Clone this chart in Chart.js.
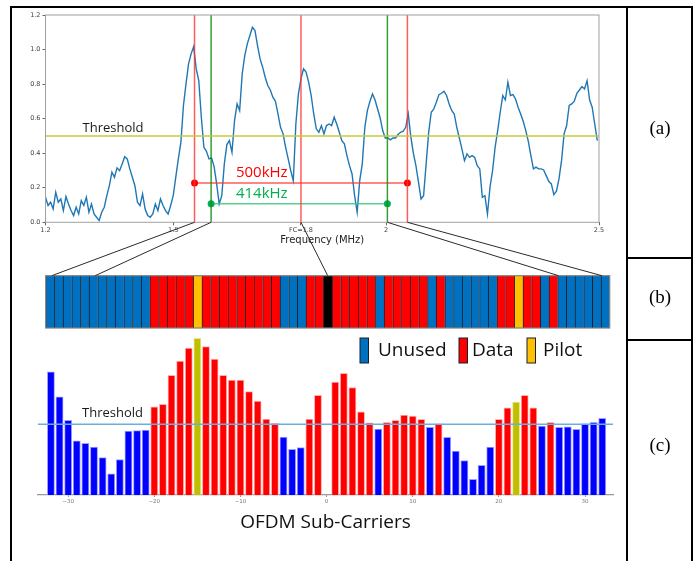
<!DOCTYPE html>
<html>
<head>
<meta charset="utf-8">
<script src="https://cdn.jsdelivr.net/npm/chart.js@4.4.1/dist/chart.umd.min.js"></script>
<style>
    html, body { margin: 0; padding: 0; background: #fff; }
    #page { position: relative; width: 699px; height: 561px; overflow: hidden; background: #fff; }
    canvas { position: absolute; }
    .rule { position: absolute; background: #000; }
    .tag { position: absolute; font-family: 'Liberation Serif', 'Times New Roman', serif; font-size: 19px; color: #000; transform: translate(-50%, -50%); }
</style>
</head>
<body>
<div id="page">
    <canvas id="spectrum" width="627" height="258" style="left:0;top:0"></canvas>
    <canvas id="cells" width="627" height="82" style="left:0;top:258px"></canvas>
    <canvas id="carriers" width="627" height="231" style="left:0;top:330px"></canvas>
    <canvas id="links" width="699" height="561" style="left:0;top:0"></canvas>

    <div class="rule" style="left:10px;top:6px;width:683px;height:2px"></div>
    <div class="rule" style="left:10px;top:6px;width:2px;height:555px"></div>
    <div class="rule" style="left:626px;top:6px;width:2px;height:555px"></div>
    <div class="rule" style="left:691px;top:6px;width:2px;height:555px"></div>
    <div class="rule" style="left:626px;top:257px;width:67px;height:2px"></div>
    <div class="rule" style="left:626px;top:339px;width:67px;height:2px"></div>

    <div class="tag" style="left:660px;top:128px">(a)</div>
    <div class="tag" style="left:660px;top:297px">(b)</div>
    <div class="tag" style="left:660px;top:445px">(c)</div>
</div>

<script>
// Спектр (a): уровень сигнала с шагом 6 кГц, начиная с 1.2 МГц
const FREQ_START = 1.2;
const FREQ_STEP = 0.006;
const spectrumLevel = [
    0.145, 0.097, 0.116, 0.077, 0.174, 0.116, 0.135, 0.068, 0.149, 0.106,
    0.068, 0.039, 0.087, 0.048, 0.125, 0.097, 0.145, 0.058, 0.106, 0.048,
    0.029, 0.010, 0.058, 0.087, 0.154, 0.212, 0.290, 0.261, 0.315, 0.299,
    0.338, 0.380, 0.367, 0.309, 0.261, 0.212, 0.116, 0.097, 0.164, 0.077,
    0.039, 0.029, 0.048, 0.106, 0.068, 0.135, 0.097, 0.068, 0.048, 0.097,
    0.154, 0.261, 0.367, 0.463, 0.676,
    0.801, 0.917, 0.975, 1.017, 0.888, 0.820, 0.608, 0.434, 0.411, 0.367,
    0.373, 0.322, 0.222, 0.106, 0.154, 0.338, 0.450, 0.473, 0.405, 0.589,
    0.685, 0.647, 0.859, 0.965, 1.033, 1.081, 1.129, 1.110, 1.023, 0.946,
    0.898, 0.840, 0.792, 0.766, 0.724, 0.701, 0.627, 0.550, 0.512, 0.434,
    0.367, 0.299, 0.241, 0.569, 0.743, 0.830, 0.888, 0.869, 0.811, 0.734,
    0.627, 0.541, 0.521,
    0.560, 0.512, 0.560, 0.569, 0.560, 0.608, 0.569, 0.521, 0.473, 0.454,
    0.386, 0.328, 0.280, 0.154, 0.058, 0.241, 0.338, 0.550, 0.647, 0.701,
    0.743, 0.708, 0.656, 0.604, 0.531, 0.488, 0.488, 0.477, 0.488, 0.488,
    0.508, 0.521, 0.527, 0.550, 0.627, 0.496, 0.400, 0.328, 0.232, 0.135,
    0.154, 0.338, 0.521, 0.637, 0.656, 0.695, 0.739, 0.747, 0.759, 0.734,
    0.685, 0.647, 0.627, 0.550, 0.488,
    0.425, 0.357, 0.396, 0.376, 0.386, 0.376, 0.328, 0.309, 0.145, 0.154,
    0.048, 0.203, 0.299, 0.434, 0.531, 0.637, 0.734, 0.708, 0.811, 0.734,
    0.739, 0.714, 0.666, 0.627, 0.585, 0.531, 0.469, 0.386, 0.309, 0.319,
    0.309, 0.309, 0.303, 0.270, 0.237, 0.222, 0.160, 0.180, 0.251, 0.357,
    0.512, 0.560, 0.676, 0.685, 0.701, 0.747, 0.766, 0.786, 0.772, 0.820,
    0.708, 0.666, 0.569, 0.473
];
const spectrumThreshold = 0.5;
const fcFreq = 1.8;
const band500 = [1.55, 2.05];
const band414 = [1.589, 2.003];
const band500Level = 0.227;
const band414Level = 0.108;
const freqTicks = [1.2, 1.5, 1.8, 2.0, 2.5];
const freqTickLabels = ['1.2', '1.5', 'FC=1.8', '2', '2.5'];
const levelTicks = [0, 0.2, 0.4, 0.6, 0.8, 1.0, 1.2];

// Поднесущие OFDM (b, c)
const subcarriers = [
    -32, -31, -30, -29, -28, -27, -26, -25, -24, -23, -22, -21, -20, -19, -18, -17,
    -16, -15, -14, -13, -12, -11, -10, -9, -8, -7, -6, -5, -4, -3, -2, -1,
    0, 1, 2, 3, 4, 5, 6, 7, 8, 9, 10, 11, 12, 13, 14, 15,
    16, 17, 18, 19, 20, 21, 22, 23, 24, 25, 26, 27, 28, 29, 30, 31, 32
];
// U - не используется, D - данные, P - пилот, N - нулевая (DC)
const carrierType = [
    'U', 'U', 'U', 'U', 'U', 'U', 'U', 'U', 'U', 'U', 'U', 'U', 'D', 'D', 'D', 'D',
    'D', 'P', 'D', 'D', 'D', 'D', 'D', 'D', 'D', 'D', 'D', 'U', 'U', 'U', 'D', 'D',
    'N', 'D', 'D', 'D', 'D', 'D', 'U', 'D', 'D', 'D', 'D', 'D', 'U', 'D', 'U', 'U',
    'U', 'U', 'U', 'U', 'D', 'D', 'P', 'D', 'D', 'U', 'D', 'U', 'U', 'U', 'U', 'U', 'U'
];
const carrierPower = [
    0.872, 0.695, 0.528, 0.384, 0.366, 0.339, 0.264, 0.149, 0.250, 0.453, 0.455, 0.460,
    0.624, 0.641, 0.847, 0.948, 1.040, 1.108, 1.049, 0.962, 0.847, 0.813, 0.813, 0.731,
    0.665, 0.537, 0.507, 0.410, 0.323, 0.335, 0.537, 0.705,
    null,
    0.799, 0.861, 0.759, 0.589, 0.511, 0.467, 0.514, 0.528, 0.566, 0.559, 0.535, 0.479,
    0.504, 0.408, 0.311, 0.243, 0.111, 0.210, 0.339, 0.535, 0.617, 0.658, 0.705, 0.617,
    0.488, 0.514, 0.479, 0.483, 0.465, 0.504, 0.514, 0.542
];
const carrierThreshold = 0.5;
const carrierTicks = [-30, -20, -10, 0, 10, 20, 30];

// Связь частот спектра с ячейками карты поднесущих
const linkFreqs = [1.55, 1.589, 1.8, 2.003, 2.05];
const linkCarriers = [-31.8, -26.8, 0, 26.6, 31.6];

// Цвета
const cellColors = { U: '#0070C0', D: '#FF0000', P: '#FFC000', N: '#000000' };
const barColors = { U: '#0000FF', D: '#FF0000', P: '#BFBF00', N: '#000000' };
const barEdges = { U: 'rgba(150,150,255,0.9)', D: 'rgba(255,170,170,0.9)', P: 'rgba(230,230,140,0.9)', N: '#000' };

const TEXT_FONT = "'Open Sans', sans-serif";
const MPL_FONT = "'DejaVu Sans', sans-serif";

// Вспомогательные функции
function segment(x1, y1, x2, y2, color, width, points, pointColor) {
    return {
        data: [{ x: x1, y: y1 }, { x: x2, y: y2 }],
        borderColor: color,
        borderWidth: width,
        pointRadius: points || 0,
        pointBackgroundColor: pointColor || color,
        pointBorderWidth: 0,
        order: 1
    };
}

function minusLabel(v) {
    return v < 0 ? '\u2212' + Math.abs(v) : String(v);
}

// (a) Спектр
const spectrumAnnotations = {
    id: 'spectrumAnnotations',
    afterDraw(chart) {
        const { ctx, chartArea, scales } = chart;
        ctx.save();
        ctx.strokeStyle = '#a0a0a0';
        ctx.lineWidth = 1;
        ctx.strokeRect(chartArea.left, chartArea.top, chartArea.right - chartArea.left, chartArea.bottom - chartArea.top);

        ctx.textAlign = 'center';
        ctx.textBaseline = 'middle';
        ctx.fillStyle = '#1a1a1a';
        ctx.font = '13px ' + TEXT_FONT;
        ctx.fillText('Threshold', scales.x.getPixelForValue(1.3585), scales.y.getPixelForValue(0.546));
        ctx.font = '15px ' + TEXT_FONT;
        ctx.fillStyle = '#FF0000';
        ctx.fillText('500kHz', scales.x.getPixelForValue(1.708), scales.y.getPixelForValue(0.285));
        ctx.fillStyle = '#00B050';
        ctx.fillText('414kHz', scales.x.getPixelForValue(1.708), scales.y.getPixelForValue(0.164));
        ctx.restore();
    }
};

const spectrumChart = new Chart(document.getElementById('spectrum'), {
    type: 'line',
    data: {
        datasets: [
            segment(FREQ_START, spectrumThreshold, 2.5, spectrumThreshold, '#C9C93A', 1.5),
            segment(band500[0], 0, band500[0], 1.2, 'rgba(255,50,50,0.8)', 1.5),
            segment(fcFreq, 0, fcFreq, 1.2, 'rgba(255,50,50,0.8)', 1.5),
            segment(band500[1], 0, band500[1], 1.2, 'rgba(255,50,50,0.8)', 1.5),
            segment(band414[0], 0, band414[0], 1.2, 'rgba(20,140,20,0.85)', 1.5),
            segment(band414[1], 0, band414[1], 1.2, 'rgba(20,140,20,0.85)', 1.5),
            segment(band500[0], band500Level, band500[1], band500Level, 'rgba(255,50,50,0.8)', 1.5, 3.5, '#FF0000'),
            segment(band414[0], band414Level, band414[1], band414Level, 'rgba(60,200,120,0.85)', 1.5, 3.5, '#00B050'),
            {
                data: spectrumLevel.map((v, i) => ({ x: FREQ_START + i * FREQ_STEP, y: v })),
                borderColor: '#1f77b4',
                borderWidth: 1.4,
                pointRadius: 0,
                order: 2
            }
        ]
    },
    options: {
        responsive: false,
        animation: false,
        layout: { padding: { left: 0, right: 28, top: 15, bottom: 0 } },
        plugins: { legend: { display: false }, tooltip: { enabled: false } },
        scales: {
            x: {
                type: 'linear',
                min: 1.2,
                max: 2.5,
                afterBuildTicks: s => { s.ticks = freqTicks.map(v => ({ value: v })); },
                afterFit: s => { s.height = 35.7; },
                ticks: {
                    callback: (v, i) => freqTickLabels[i],
                    font: { family: MPL_FONT, size: 6.5 },
                    color: '#444',
                    padding: 1,
                    maxRotation: 0,
                    autoSkip: false
                },
                grid: { drawOnChartArea: false, tickLength: 3, color: '#666' },
                border: { display: false },
                title: {
                    display: true,
                    text: 'Frequency (MHz)',
                    font: { family: MPL_FONT, size: 10 },
                    color: '#222',
                    padding: { top: 0, bottom: 12 }
                }
            },
            y: {
                min: 0,
                max: 1.2,
                afterBuildTicks: s => { s.ticks = levelTicks.map(v => ({ value: v })); },
                afterFit: s => { s.width = 45.5; },
                ticks: {
                    callback: v => v.toFixed(1),
                    font: { family: MPL_FONT, size: 6.5 },
                    color: '#444',
                    padding: 2
                },
                grid: { drawOnChartArea: false, tickLength: 3, color: '#666' },
                border: { display: false }
            }
        }
    },
    plugins: [spectrumAnnotations]
});

// (b) Карта поднесущих
const cellsOutline = {
    id: 'cellsOutline',
    afterDraw(chart) {
        const { ctx, chartArea } = chart;
        ctx.save();
        ctx.strokeStyle = '#7f7f7f';
        ctx.lineWidth = 1.2;
        ctx.strokeRect(chartArea.left, chartArea.top, chartArea.right - chartArea.left, chartArea.bottom - chartArea.top);
        ctx.restore();
    }
};

const cellsChart = new Chart(document.getElementById('cells'), {
    type: 'bar',
    data: {
        labels: subcarriers,
        datasets: [{
            data: subcarriers.map(() => 1),
            backgroundColor: carrierType.map(t => cellColors[t]),
            borderColor: '#1b1f2a',
            borderWidth: { left: 1, right: 0, top: 0, bottom: 0 },
            borderSkipped: false,
            categoryPercentage: 1,
            barPercentage: 1
        }]
    },
    options: {
        responsive: false,
        animation: false,
        layout: { padding: { left: 45.7, right: 17.3, top: 17.7, bottom: 12 } },
        plugins: { legend: { display: false }, tooltip: { enabled: false } },
        scales: {
            x: { display: false },
            y: { display: false, min: 0, max: 1 }
        }
    },
    plugins: [cellsOutline]
});

// (c) Мощность на поднесущих
const carriersDecor = {
    id: 'carriersDecor',
    afterDraw(chart) {
        const { ctx, scales } = chart;
        ctx.save();
        ctx.textAlign = 'center';
        ctx.textBaseline = 'middle';
        ctx.fillStyle = '#1a1a1a';
        ctx.font = '13px ' + TEXT_FONT;
        ctx.fillText('Threshold', scales.x.getPixelForValue(-24.85), scales.y.getPixelForValue(0.58));

        // Легенда
        const items = [
            { label: 'Unused', color: cellColors.U, box: 360, text: 378 },
            { label: 'Data', color: cellColors.D, box: 459, text: 472 },
            { label: 'Pilot', color: cellColors.P, box: 527, text: 543 }
        ];
        ctx.font = '19px ' + TEXT_FONT;
        ctx.textAlign = 'left';
        items.forEach(item => {
            ctx.fillStyle = item.color;
            ctx.fillRect(item.box, 8, 8.5, 25);
            ctx.strokeStyle = '#1b1f2a';
            ctx.lineWidth = 1;
            ctx.strokeRect(item.box, 8, 8.5, 25);
            ctx.fillStyle = '#111';
            ctx.fillText(item.label, item.text, 21);
        });
        ctx.restore();
    }
};

const carriersChart = new Chart(document.getElementById('carriers'), {
    type: 'bar',
    data: {
        datasets: [
            {
                type: 'line',
                data: [{ x: -33.5, y: carrierThreshold }, { x: 33.25, y: carrierThreshold }],
                borderColor: '#6aaee0',
                borderWidth: 1.5,
                pointRadius: 0,
                order: 0
            },
            {
                data: subcarriers.map((s, i) => ({ x: s, y: carrierPower[i] })),
                backgroundColor: carrierType.map(t => barColors[t]),
                borderColor: carrierType.map(t => barEdges[t]),
                borderWidth: 1,
                borderSkipped: 'start',
                barThickness: 7.2,
                order: 1
            }
        ]
    },
    options: {
        responsive: false,
        animation: false,
        layout: { padding: { left: 38, right: 14, top: 2, bottom: 0 } },
        plugins: { legend: { display: false }, tooltip: { enabled: false } },
        scales: {
            x: {
                type: 'linear',
                offset: false,
                min: -33.5,
                max: 33.25,
                afterBuildTicks: s => { s.ticks = carrierTicks.map(v => ({ value: v })); },
                afterFit: s => { s.height = 66; },
                ticks: {
                    callback: v => minusLabel(v),
                    font: { family: MPL_FONT, size: 5.5 },
                    color: '#777',
                    padding: 1,
                    maxRotation: 0,
                    autoSkip: false
                },
                grid: { drawOnChartArea: false, tickLength: 2, color: '#999', offset: false },
                border: { color: '#999', width: 1.2 },
                title: {
                    display: true,
                    text: 'OFDM Sub-Carriers',
                    font: { family: TEXT_FONT, size: 19 },
                    color: '#111',
                    padding: { top: 0, bottom: 27 }
                }
            },
            y: { display: false, min: 0, max: 1.153 }
        }
    },
    plugins: [carriersDecor]
});

// Соединительные линии между (a) и (b)
function drawLinks() {
    const ctx = document.getElementById('links').getContext('2d');
    const specCanvas = document.getElementById('spectrum');
    const cellCanvas = document.getElementById('cells');
    const xs = spectrumChart.scales.x;
    const yTop = specCanvas.offsetTop + spectrumChart.chartArea.bottom;
    const area = cellsChart.chartArea;
    const yBottom = cellCanvas.offsetTop + area.top;
    const n = subcarriers.length;

    ctx.strokeStyle = '#2a2a2a';
    ctx.lineWidth = 1;
    linkFreqs.forEach((f, i) => {
        const x1 = specCanvas.offsetLeft + xs.getPixelForValue(f);
        const x2 = cellCanvas.offsetLeft + area.left + (linkCarriers[i] - subcarriers[0] + 0.5) / n * (area.right - area.left);
        ctx.beginPath();
        ctx.moveTo(x1, yTop);
        ctx.lineTo(x2, yBottom);
        ctx.stroke();
    });
}

drawLinks();
</script>
</body>
</html>
